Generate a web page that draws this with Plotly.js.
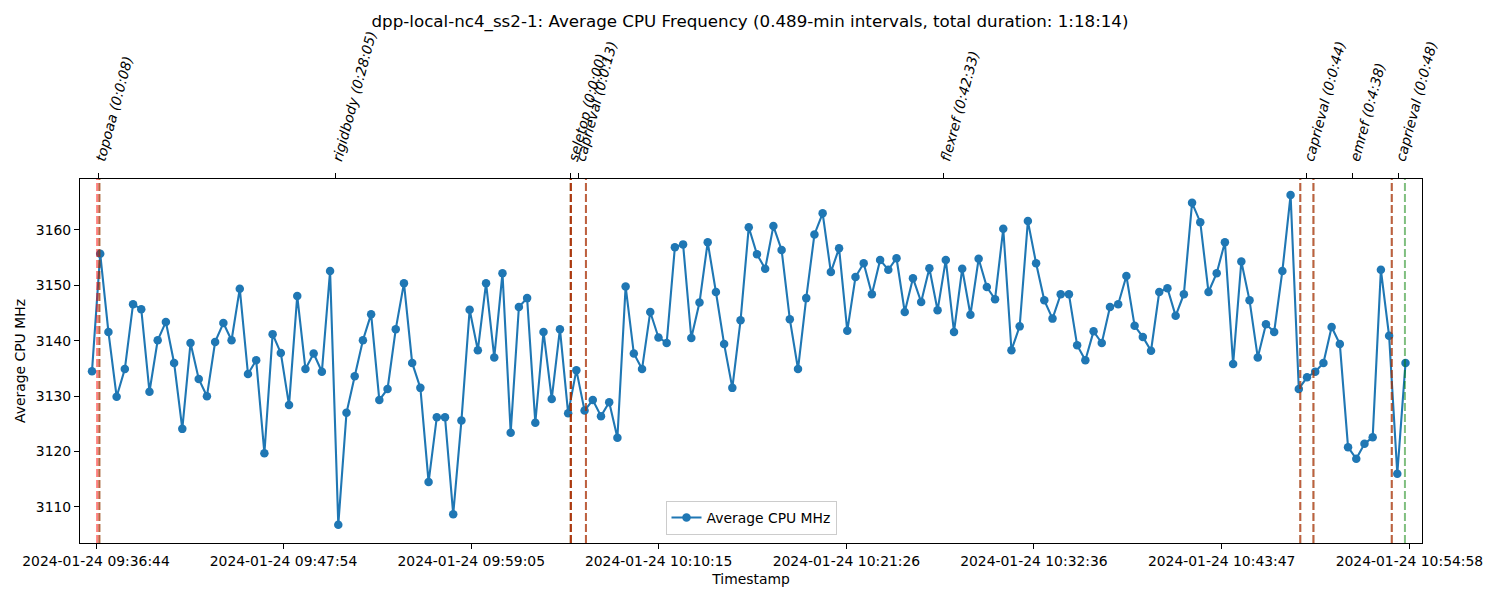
<!DOCTYPE html>
<html>
<head>
<meta charset="utf-8">
<script src="https://cdn.plot.ly/plotly-3.0.1.min.js"></script>
<style>body { margin: 0; background: #fff; }</style>
</head>
<body>
<div id="cpu_freq" style="width:1500px;height:600px"></div>
<script>
// sampling grid (0.489-min intervals)
var SAMPLE_START = '2024-01-24 09:36:29.7';
var SAMPLE_INTERVAL_S = 29.34;

var cpu_mhz = [
    3134.5, 3155.7, 3141.6, 3129.9, 3134.9, 3146.6, 3145.7, 3130.8, 3140.1, 3143.4,
    3136.0, 3124.1, 3139.6, 3133.1, 3130.0, 3139.8, 3143.2, 3140.1, 3149.4, 3134.0,
    3136.5, 3119.7, 3141.2, 3137.8, 3128.4, 3148.1, 3134.9, 3137.7, 3134.4, 3152.6,
    3106.8, 3127.0, 3133.6, 3140.1, 3144.8, 3129.3, 3131.3, 3142.1, 3150.4, 3136.0,
    3131.5, 3114.5, 3126.2, 3126.2, 3108.7, 3125.6, 3145.6, 3138.3, 3150.4, 3137.0,
    3152.2, 3123.4, 3146.1, 3147.7, 3125.2, 3141.6, 3129.5, 3142.1, 3126.9, 3134.7,
    3127.4, 3129.3, 3126.4, 3128.9, 3122.5, 3149.8, 3137.7, 3134.9, 3145.2, 3140.6,
    3139.6, 3156.9, 3157.4, 3140.5, 3146.9, 3157.8, 3148.8, 3139.4, 3131.5, 3143.7,
    3160.5, 3155.6, 3153.0, 3160.7, 3156.4, 3143.9, 3134.9, 3147.7, 3159.2, 3163.0,
    3152.4, 3156.7, 3141.8, 3151.5, 3154.0, 3148.4, 3154.6, 3152.8, 3154.9, 3145.2,
    3151.3, 3147.0, 3153.1, 3145.5, 3154.6, 3141.6, 3153.0, 3144.7, 3154.8, 3149.7,
    3147.5, 3160.2, 3138.3, 3142.6, 3161.6, 3154.0, 3147.3, 3144.0, 3148.4, 3148.4,
    3139.2, 3136.5, 3141.7, 3139.6, 3146.1, 3146.6, 3151.7, 3142.7, 3140.7, 3138.2,
    3148.8, 3149.5, 3144.5, 3148.4, 3164.9, 3161.4, 3148.8, 3152.2, 3157.8, 3135.8,
    3154.3, 3147.3, 3137.0, 3143.0, 3141.6, 3152.6, 3166.3, 3131.3, 3133.4, 3134.4,
    3136.0, 3142.5, 3139.4, 3120.8, 3118.7, 3121.4, 3122.6, 3152.8, 3140.9, 3116.0,
    3136.0
];

var tick_labels = ['2024-01-24 09:36:44', '2024-01-24 09:47:54', '2024-01-24 09:59:05',
                   '2024-01-24 10:10:15', '2024-01-24 10:21:26', '2024-01-24 10:32:36',
                   '2024-01-24 10:43:47', '2024-01-24 10:54:58'];

var step_names = ['topoaa', 'rigidbody', 'seletop', 'caprieval', 'flexref', 'caprieval', 'emref', 'caprieval'];
var step_durations = ['0:0:08', '0:28:05', '0:0:00', '0:0:13', '0:42:33', '0:0:44', '0:4:38', '0:0:48'];
var step_start = ['2024-01-24 09:36:48', '2024-01-24 09:36:56', '2024-01-24 10:05:01', '2024-01-24 10:05:01',
                  '2024-01-24 10:05:55', '2024-01-24 10:48:28', '2024-01-24 10:49:15', '2024-01-24 10:53:55'];
var step_end = ['2024-01-24 09:36:56', '2024-01-24 10:05:01', '2024-01-24 10:05:01', '2024-01-24 10:05:55',
                '2024-01-24 10:48:28', '2024-01-24 10:49:15', '2024-01-24 10:53:55', '2024-01-24 10:54:42'];

var X_RANGE = ['2024-01-24 09:35:46.8', '2024-01-24 10:55:43'];
var Y_RANGE = [3103.5, 3169.2];

function toMs(s) { return Date.parse(s.replace(' ', 'T') + 'Z'); }
function fmt(ms) { return new Date(ms).toISOString().replace('T', ' ').replace('Z', ''); }

var t0 = toMs(SAMPLE_START);
var timestamps = cpu_mhz.map(function (v, i) { return fmt(t0 + i * SAMPLE_INTERVAL_S * 1000); });

var step_mid = step_start.map(function (s, i) { return fmt((toMs(s) + toMs(step_end[i])) / 2); });
var step_text = step_names.map(function (n, i) { return n + ' (' + step_durations[i] + ')'; });

var FONT = 'DejaVu Sans, sans-serif';

var trace_cpu = {
    x: timestamps,
    y: cpu_mhz,
    type: 'scatter',
    mode: 'lines+markers',
    name: 'Average CPU MHz',
    line: {color: '#1f77b4', width: 2.1},
    marker: {color: '#1f77b4', size: 8.5}
};

// invisible trace so the top axis exists
var trace_steps = {
    x: step_mid,
    y: step_mid.map(function () { return null; }),
    xaxis: 'x2',
    type: 'scatter',
    mode: 'markers',
    showlegend: false,
    hoverinfo: 'skip'
};

var shapes = [];
step_start.forEach(function (s, i) {
    shapes.push({type: 'line', xref: 'x', yref: 'paper', x0: s, x1: s, y0: 0, y1: 1, layer: 'above',
                 line: {color: 'rgba(255,0,0,0.5)', width: 2, dash: '8px,3px'}});
    shapes.push({type: 'line', xref: 'x', yref: 'paper', x0: step_end[i], x1: step_end[i], y0: 0, y1: 1, layer: 'above',
                 line: {color: 'rgba(0,128,0,0.5)', width: 2, dash: '8px,3px'}});
});

var layout = {
    width: 1500,
    height: 600,
    paper_bgcolor: '#fff',
    plot_bgcolor: '#fff',
    font: {family: FONT, size: 13.9, color: '#000'},
    title: {text: 'dpp-local-nc4_ss2-1: Average CPU Frequency (0.489-min intervals, total duration: 1:18:14)',
            x: 0.5, xref: 'container', y: 1 - 21 / 600, yanchor: 'middle',
            font: {family: FONT, size: 16.7, color: '#000'}},
    margin: {l: 80, r: 78, t: 179, b: 57},
    showlegend: true,
    legend: {x: 0.5, xanchor: 'center', y: 0.022, yanchor: 'bottom',
             bgcolor: 'rgba(255,255,255,0.8)', bordercolor: '#cccccc', borderwidth: 1,
             font: {family: FONT, size: 13.9}},
    xaxis: {type: 'date', range: X_RANGE,
            tickmode: 'array', tickvals: tick_labels, ticktext: tick_labels,
            ticks: 'outside', ticklen: 5, tickcolor: '#000', tickwidth: 1,
            showline: true, linecolor: '#000', linewidth: 1, mirror: true,
            showgrid: false, zeroline: false, automargin: false,
            title: {text: 'Timestamp', standoff: 6, font: {family: FONT, size: 13.9}}},
    xaxis2: {type: 'date', overlaying: 'x', side: 'top', matches: 'x',
             tickmode: 'array', tickvals: step_mid, ticktext: step_text, tickangle: -75,
             tickfont: {family: FONT, size: 13.9, style: 'italic'},
             ticks: 'outside', ticklen: 5, tickcolor: '#000', tickwidth: 1,
             showline: true, linecolor: '#000', linewidth: 1,
             showgrid: false, zeroline: false, automargin: false},
    yaxis: {range: Y_RANGE, tickmode: 'array', tickvals: [3110, 3120, 3130, 3140, 3150, 3160],
            ticks: 'outside', ticklen: 5, tickcolor: '#000', tickwidth: 1,
            showline: true, linecolor: '#000', linewidth: 1, mirror: true,
            showgrid: false, zeroline: false, automargin: false,
            title: {text: 'Average CPU MHz', standoff: 6, font: {family: FONT, size: 13.9}}},
    shapes: shapes
};

var config = {displayModeBar: false, responsive: false};

Plotly.newPlot(document.getElementById('cpu_freq'), [trace_cpu, trace_steps], layout, config);
</script>
</body>
</html>
